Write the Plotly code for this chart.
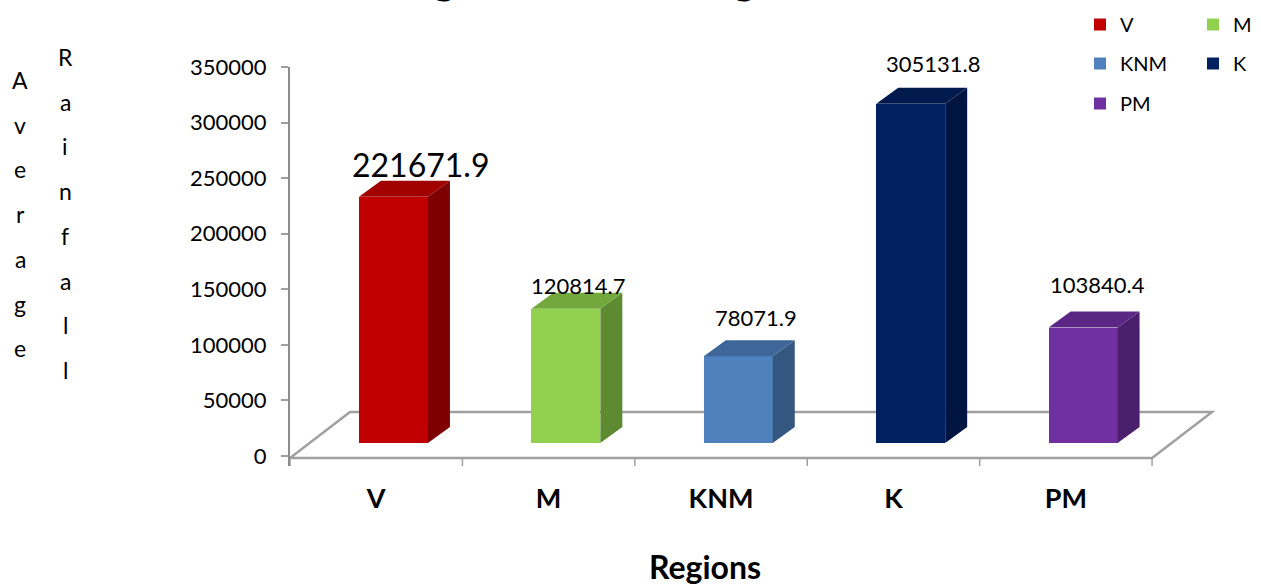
import plotly.graph_objects as go

# ---------------- data ----------------
regions = ["V", "M", "KNM", "K", "PM"]
rainfall = [221671.9, 120814.7, 78071.9, 305131.8, 103840.4]
y_tick_values = [0, 50000, 100000, 150000, 200000, 250000, 300000, 350000]
title_text = "Average Rainfall of Regions"
x_title = "Regions"
y_title_words = ["Average", "Rainfall"]

# ---------------- style ----------------
front_colors = ["#C00000", "#92D050", "#4F81BD", "#002060", "#7030A0"]
side_colors = ["#7F0000", "#5E8A32", "#33577F", "#001540", "#4A1F6B"]
top_colors = ["#A00000", "#72A83C", "#3E6699", "#001A4E", "#5B2784"]
legend_ids = ["legend", "legend", "legend2", "legend2", "legend3"]
# (xshift px, yshift px, font size) for each data label
label_style = [(27, 16, 32), (13, 7, 22), (18, 23, 22), (23, 24, 22), (14, 27, 22)]

FONT = "Lato"
W, H = 1261, 588
ML, MR, MT, MB = 290, 46, 67, 122
PW, PH = W - ML - MR, H - MT - MB
X_MAX = 5.365
Y_MIN, Y_MAX = -8997, 350000
UPX = (Y_MAX - Y_MIN) / PH          # value units per pixel (y)
XPX = X_MAX / PW                    # x units per pixel

BAR_SHIFT = 0.6
BAR_W = 0.4
BASE_LIFT = 13 * UPX
DX, DY = 22 * XPX, 16 * UPX
FLOOR_DX, FLOOR_DY = 60 * XPX, 46 * UPX
FLOOR_Y = -2 * UPX
GRAY = "#A0A0A0"


def px_x(p):
    return (p - ML) / PW


def px_y(p):
    return (H - MB - p) / PH


fig = go.Figure()
shapes = []
annotations = []

# floor
n = len(regions)
shapes.append(dict(
    type="path", xref="x", yref="y", layer="below",
    path=(f"M0,{FLOOR_Y} L{n},{FLOOR_Y} L{n + FLOOR_DX},{FLOOR_Y + FLOOR_DY} "
          f"L{FLOOR_DX},{FLOOR_Y + FLOOR_DY} Z"),
    line=dict(color=GRAY, width=2.5), fillcolor="rgba(255,255,255,0)"))
# category divider ticks
for k in range(n + 1):
    shapes.append(dict(type="line", xref="x", yref="y", x0=k, x1=k,
                       y0=FLOOR_Y, y1=Y_MIN, line=dict(color=GRAY, width=1.5)))

for i, (r, v) in enumerate(zip(regions, rainfall)):
    xc = i + BAR_SHIFT
    xl, xr = xc - BAR_W / 2, xc + BAR_W / 2
    top = BASE_LIFT + v
    fig.add_trace(go.Bar(
        x=[xc], y=[v], base=[BASE_LIFT], width=[BAR_W], name=r,
        marker=dict(color=front_colors[i], line=dict(width=0)),
        legend=legend_ids[i], hoverinfo="skip"))
    # side face
    shapes.append(dict(
        type="path", xref="x", yref="y", layer="above",
        path=(f"M{xr},{BASE_LIFT} L{xr},{top} L{xr + DX},{top + DY} "
              f"L{xr + DX},{BASE_LIFT + DY} Z"),
        fillcolor=side_colors[i], line=dict(width=0)))
    # top face
    shapes.append(dict(
        type="path", xref="x", yref="y", layer="above",
        path=(f"M{xl},{top} L{xr},{top} L{xr + DX},{top + DY} "
              f"L{xl + DX},{top + DY} Z"),
        fillcolor=top_colors[i], line=dict(width=0)))
    xs, ys, fs = label_style[i]
    annotations.append(dict(
        x=xc, y=top + DY, xref="x", yref="y", text=f"{v}",
        showarrow=False, xanchor="center", yanchor="middle",
        xshift=xs, yshift=ys, font=dict(family=FONT, size=fs, color="black")))

# y axis title, stacked letters
for col, (word, xp, y0) in enumerate(zip(y_title_words, [20, 65], [80, 57])):
    for j, ch in enumerate(word):
        annotations.append(dict(
            x=px_x(xp), y=px_y(y0 + j * 44.7), xref="paper", yref="paper",
            text=ch, showarrow=False, xanchor="center", yanchor="middle",
            font=dict(family=FONT, size=23, color="black")))

# x axis title
annotations.append(dict(
    x=px_x(705), y=px_y(566), xref="paper", yref="paper", text=f"<b>{x_title}</b>",
    showarrow=False, xanchor="center", yanchor="middle",
    font=dict(family=FONT, size=32, color="black")))

# chart title (mostly above the visible page, as in the reference)
annotations.append(dict(
    x=px_x(578), y=px_y(5), xref="paper", yref="paper", text=f"<b>{title_text}</b>",
    showarrow=False, xanchor="center", yanchor="bottom",
    font=dict(family=FONT, size=42, color="black")))

legend_common = dict(orientation="h", font=dict(family=FONT, size=20, color="black"),
                     bgcolor="rgba(0,0,0,0)", borderwidth=0, xanchor="left",
                     yanchor="top", entrywidth=68, entrywidthmode="pixels",
                     itemclick=False, itemdoubleclick=False)

fig.update_layout(
    width=W, height=H,
    margin=dict(l=ML, r=MR, t=MT, b=MB, pad=0, autoexpand=False),
    paper_bgcolor="white", plot_bgcolor="white",
    barmode="overlay", bargap=0,
    showlegend=True,
    legend=dict(x=px_x(1080), y=px_y(5), **legend_common),
    legend2=dict(x=px_x(1080), y=px_y(44), **legend_common),
    legend3=dict(x=px_x(1080), y=px_y(84), **legend_common),
    xaxis=dict(range=[0, X_MAX], tickvals=[i + 0.5 for i in range(n)],
               ticktext=[f"<b>{r}</b>" for r in regions], ticks="",
               showgrid=False, zeroline=False, showline=False,
               tickfont=dict(family=FONT, size=27, color="black"),
               ticklabelstandoff=14, fixedrange=True),
    yaxis=dict(range=[Y_MIN, Y_MAX], tickvals=y_tick_values,
               ticktext=[str(t) for t in y_tick_values],
               ticks="outside", ticklen=7, tickcolor=GRAY, tickwidth=1.5,
               showline=True, linecolor="#8C8C8C", linewidth=2,
               showgrid=False, zeroline=False,
               tickfont=dict(family=FONT, size=22, color="black"),
               ticklabelstandoff=10, fixedrange=True),
    shapes=shapes,
    annotations=annotations,
)

fig.write_html("out.html")
